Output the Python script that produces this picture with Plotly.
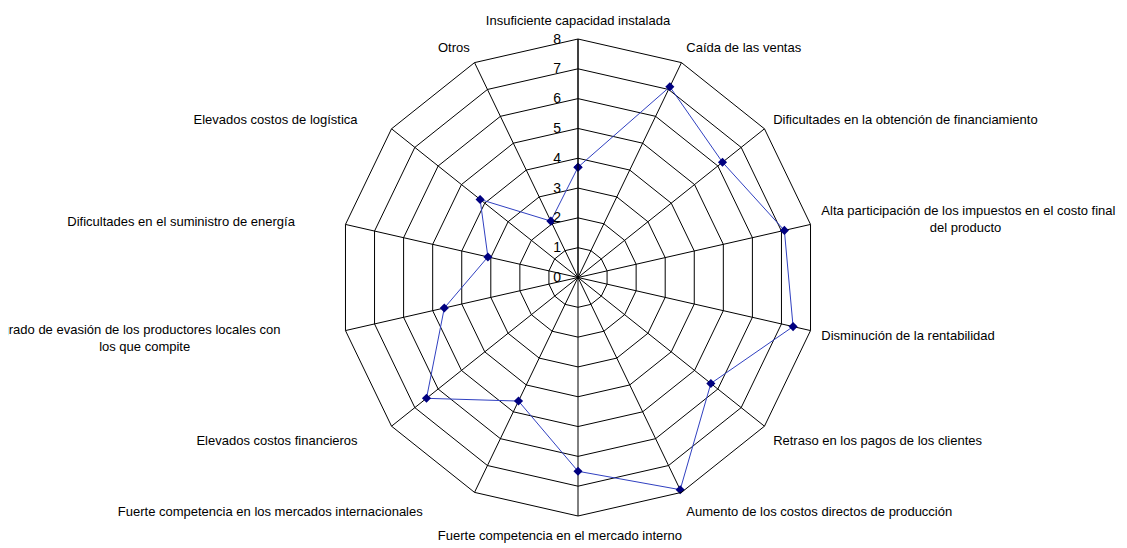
import plotly.graph_objects as go

NB = "\u00a0"

categorias = [
    "Insuficiente capacidad instalada",
    "Caída de las ventas",
    "Dificultades en la obtención de financiamiento",
    "Alta participación de los impuestos en el costo final<br>" + NB * 30 + "del producto",
    "Disminución de la rentabilidad",
    "Retraso en los pagos de los clientes",
    "Aumento de los costos directos de producción",
    "Fuerte competencia en el mercado interno" + NB * 10,
    "Fuerte competencia en los mercados internacionales" + NB * 13,
    "Elevados costos financieros" + NB * 7,
    "Alto grado de evasión de los productores locales con" + NB * 15
    + "<br>los que compite" + NB * 40,
    "Dificultades en el suministro de energía" + NB * 11,
    "Elevados costos de logística" + NB * 7,
    "Otros",
]
valores = [3.7, 7.1, 6.2, 7.1, 7.4, 5.7, 7.9, 6.5, 4.6, 6.5, 4.6, 3.1, 4.2, 2.1]

fig = go.Figure()
fig.add_trace(go.Scatterpolar(
    r=valores + valores[:1],
    theta=categorias + categorias[:1],
    mode="lines+markers",
    line=dict(color="#3040c0", width=1),
    marker=dict(symbol="diamond", size=7, color="#000080"),
    showlegend=False,
))

fig.update_layout(
    width=1127, height=548,
    margin=dict(l=13, r=0, t=31, b=40),
    paper_bgcolor="white",
    font=dict(family="Liberation Sans, Arial", size=13, color="black"),
    polar=dict(
        bgcolor="white",
        gridshape="linear",
        angularaxis=dict(
            rotation=90, direction="clockwise",
            linecolor="black", linewidth=1,
            gridcolor="black", gridwidth=0.8,
            ticks="outside", ticklen=8, tickcolor="rgba(0,0,0,0)",
            tickfont=dict(size=13),
        ),
        radialaxis=dict(
            range=[0, 8], dtick=1, angle=90, tickangle=90,
            side="counterclockwise", ticksuffix=NB * 3,
            linecolor="black", linewidth=1,
            gridcolor="black", gridwidth=0.8,
            ticks="", tickfont=dict(size=14),
        ),
    ),
)

fig.write_html("out.html")
